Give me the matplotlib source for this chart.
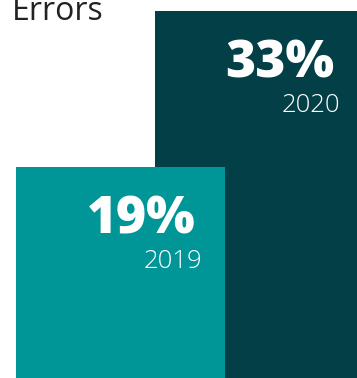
import matplotlib
matplotlib.use("Agg")
import matplotlib.pyplot as plt

# share of errors per year
years = ["2019", "2020"]
values = [19, 33]
labels = ["19%", "33%"]
colors = ["#009698", "#033f47"]

W, H = 357, 378
fig = plt.figure(figsize=(W / 100, H / 100), dpi=100)
ax = fig.add_axes([0, 0, 1, 1])
ax.set_xlim(0, W)
ax.set_ylim(0, max(values) * H / 367)
ax.axis("off")

# bar left edges and widths in pixel units, 2020 drawn behind 2019
lefts = [16, 155]
widths = [209, 208]
for i in [1, 0]:
    ax.bar(lefts[i], values[i], width=widths[i], align="edge",
           color=colors[i], zorder=2 - i)
    right = lefts[i] + widths[i]
    ax.annotate(labels[i], xy=(right, values[i]), xytext=(-29, -67),
                textcoords="offset pixels", ha="right", va="baseline",
                color="white", fontsize=37, fontweight="extra bold",
                family="Open Sans", zorder=5, annotation_clip=False)
    ax.annotate(years[i], xy=(right, values[i]), xytext=(-23, -101),
                textcoords="offset pixels", ha="right", va="baseline",
                color="white", fontsize=18.5, fontweight="light",
                family="Open Sans", zorder=5, annotation_clip=False)

fig.text(12 / W, 1 - 20 / H, "Errors", ha="left", va="baseline",
         fontsize=23, color="#222222", family="Open Sans")

fig.savefig("out.png", dpi=100)
